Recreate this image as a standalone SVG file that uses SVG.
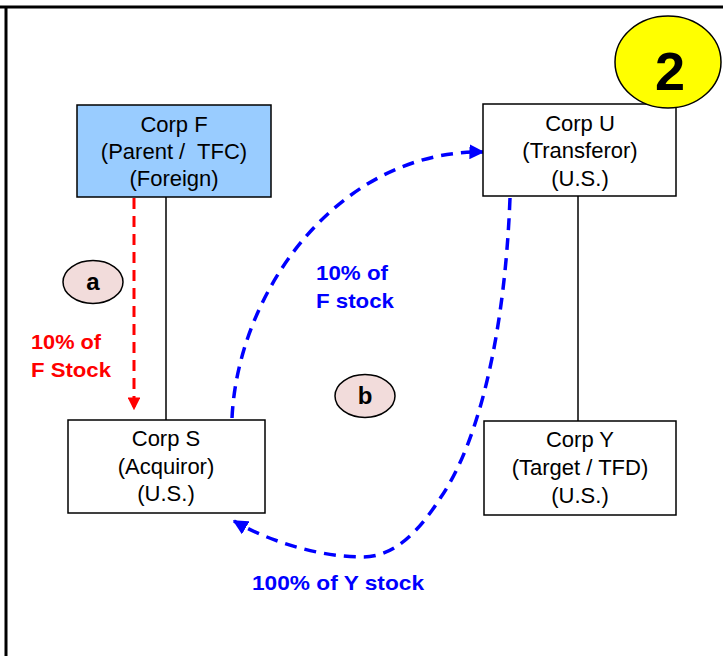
<svg xmlns="http://www.w3.org/2000/svg" width="723" height="656" viewBox="0 0 723 656">
<style>
.box{fill:#fff;stroke:#000;stroke-width:1.5}
.bt{font-family:"Liberation Sans",Arial,sans-serif;font-size:22px;fill:#000;text-anchor:middle}
.lbl{font-family:"Liberation Sans",Arial,sans-serif;font-size:21px;font-weight:bold}
.tag{fill:#F2DCDB;stroke:#000;stroke-width:1.5}
.tagt{font-family:"Liberation Sans",Arial,sans-serif;font-size:24px;font-weight:bold;text-anchor:middle}
.blue{fill:none;stroke:#0000FF;stroke-width:3.5;stroke-dasharray:12 8}
.red{fill:none;stroke:#FF0000;stroke-width:3;stroke-dasharray:11 7}
.own{stroke:#000;stroke-width:1.5}
</style>
<defs>
<marker id="ab" viewBox="0 0 10 10" refX="9" refY="5" markerWidth="4.3" markerHeight="4.3" markerUnits="strokeWidth" orient="auto"><path d="M0,0 L10,5 L0,10 z" fill="#0000FF"/></marker>
<marker id="ar" viewBox="0 0 10 10" refX="9" refY="5" markerWidth="4.3" markerHeight="4.3" markerUnits="strokeWidth" orient="auto"><path d="M0,0 L10,5 L0,10 z" fill="#FF0000"/></marker>
</defs>
<line x1="0" y1="7" x2="723" y2="7" stroke="#000" stroke-width="3"/>
<line x1="6" y1="7" x2="6" y2="656" stroke="#000" stroke-width="3"/>
<g id="connectors">
<line class="own" x1="166" y1="197" x2="166" y2="420"/>
<line class="own" x1="578" y1="196" x2="578" y2="421"/>
<path class="red" d="M134,198 L134,409" marker-end="url(#ar)"/>
<path class="blue" d="M232,418 C238,290 340,150 483,152" marker-end="url(#ab)"/>
<path class="blue" d="M510,198 C505,330 480,440 441,497 C420,530 395,557 363,557 C320,557 270,542 234,521" marker-end="url(#ab)"/>
</g>
<g id="corpF">
<rect x="77" y="105" width="194" height="92" fill="#99CCFF" stroke="#000" stroke-width="1.5"/>
<text class="bt" x="174" y="132">Corp F</text>
<text class="bt" x="174" y="159" xml:space="preserve">(Parent /  TFC)</text>
<text class="bt" x="174" y="186">(Foreign)</text>
</g>
<g id="corpU">
<rect class="box" x="483" y="104" width="193" height="92"/>
<text class="bt" x="580" y="131">Corp U</text>
<text class="bt" x="580" y="158">(Transferor)</text>
<text class="bt" x="580" y="186">(U.S.)</text>
</g>
<g id="corpS">
<rect class="box" x="68" y="420" width="197" height="93"/>
<text class="bt" x="166" y="446">Corp S</text>
<text class="bt" x="166" y="474">(Acquiror)</text>
<text class="bt" x="166" y="501">(U.S.)</text>
</g>
<g id="corpY">
<rect class="box" x="484" y="421" width="192" height="94"/>
<text class="bt" x="580" y="447">Corp Y</text>
<text class="bt" x="580" y="475">(Target / TFD)</text>
<text class="bt" x="580" y="503">(U.S.)</text>
</g>
<g id="tagA">
<ellipse class="tag" cx="93" cy="282" rx="30" ry="21.5"/>
<text class="tagt" x="93" y="290">a</text>
</g>
<g id="tagB">
<ellipse class="tag" cx="365" cy="396" rx="30" ry="21.5"/>
<text class="tagt" x="365" y="404">b</text>
</g>
<g id="badge">
<ellipse cx="668" cy="62" rx="53" ry="46" fill="#FFFF00" stroke="#000" stroke-width="1.5"/>
<text x="670" y="90" font-family="Liberation Sans,Arial,sans-serif" font-size="54" font-weight="bold" text-anchor="middle">2</text>
</g>
<g id="labels">
<text class="lbl" fill="#FF0000" x="31" y="349" textLength="70" lengthAdjust="spacingAndGlyphs">10% of</text>
<text class="lbl" fill="#FF0000" x="31" y="377" textLength="80" lengthAdjust="spacingAndGlyphs">F Stock</text>
<text class="lbl" fill="#0000FF" x="316" y="280" textLength="72" lengthAdjust="spacingAndGlyphs">10% of</text>
<text class="lbl" fill="#0000FF" x="316" y="308" textLength="78" lengthAdjust="spacingAndGlyphs">F stock</text>
<text class="lbl" fill="#0000FF" x="252" y="590" textLength="172" lengthAdjust="spacingAndGlyphs">100% of Y stock</text>
</g>
</svg>
